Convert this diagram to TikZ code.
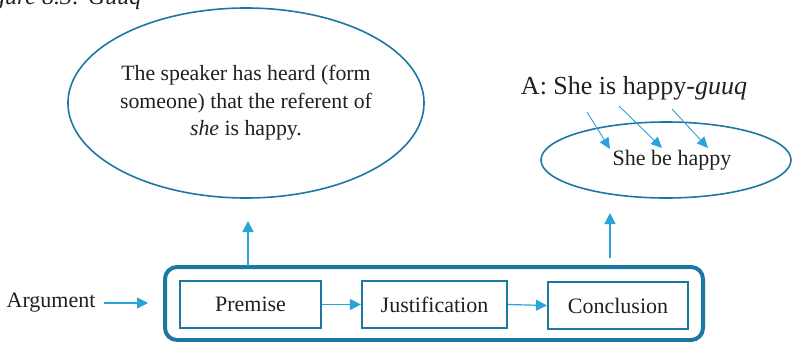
\documentclass[tikz,border=0pt]{standalone}
\usepackage{fontspec}
\setmainfont{Liberation Serif}
\usetikzlibrary{shapes.geometric,arrows.meta}
\definecolor{frameblue}{HTML}{1D77A3}
\definecolor{arrowblue}{HTML}{2AA2DC}
\definecolor{inkgray}{HTML}{231F20}

\begin{document}
\begin{tikzpicture}[x=1pt,y=-1pt,
  every node/.style={text=inkgray, font=\fontsize{22}{27.5}\selectfont},
  bubble/.style={ellipse, draw=frameblue, line width=1.6pt, inner sep=0pt},
  stepbox/.style={draw=frameblue, line width=2.2pt, minimum height=47pt, inner sep=0pt},
  flow/.style={draw=arrowblue, line width=1.2pt, -{Triangle[length=11pt,width=11pt]}},
  thinflow/.style={draw=arrowblue, line width=0.9pt, -{Triangle[length=11pt,width=10pt]}}
]
\useasboundingbox (0,0) rectangle (792,342);
\clip (0,0) rectangle (792,342);

% caption, cut by the top edge
\node[anchor=base east, font=\fontsize{24}{28}\selectfont\itshape] (caption) at (145,5) {Figure 8.3: Guuq};

% premise bubble
\node[bubble, minimum width=354pt, minimum height=190pt, align=center,
      font=\fontsize{21.8}{27.5}\selectfont] (premisebubble) at (246,103)
  {The speaker has heard (form\\someone) that the referent of\\\textit{she} is happy.};

% conclusion bubble
\node[bubble, minimum width=250pt, minimum height=76pt] (conclbubble) at (666,160) {};
\node (shebe) at (672,160) {She be happy};

% example sentence
\node[font=\fontsize{26}{30}\selectfont] (example) at (634,88) {A: She is happy-\textit{guuq}};

% arrows from the sentence into the bubble
\coordinate (a1s) at (587,112); \coordinate (a1e) at (610,149);
\coordinate (a2s) at (619,106); \coordinate (a2e) at (662,148);
\coordinate (a3s) at (672,109); \coordinate (a3e) at (708,148);
\draw[thinflow] (a1s) -- (a1e);
\draw[thinflow] (a2s) -- (a2e);
\draw[thinflow] (a3s) -- (a3e);

% argument frame
\draw[draw=frameblue, line width=4pt, rounded corners=12pt] (165,267) rectangle (703,340);
\coordinate (frameTL) at (248,266);

\node[stepbox, minimum width=141pt] (premise) at (250.5,304.5) {Premise};
\node[stepbox, minimum width=145pt] (justif) at (434.5,304.5) {Justification};
\node[stepbox, minimum width=140pt] (concl) at (618,305.5) {Conclusion};

\draw[flow] (premise.east) -- (justif.west);
\draw[flow] (justif.east) -- (concl.west);

% argument label
\node[anchor=east] (argument) at (99,303) {Argument};
\coordinate (argin) at (148,303);
\draw[flow] ([xshift=5pt]argument.east) -- (argin);

% upward arrows
\coordinate (upLtop) at (248,221);
\coordinate (upRbot) at (610,258);
\coordinate (upRtop) at (610,213);
\draw[flow] (frameTL) -- (upLtop);
\draw[flow] (upRbot) -- (upRtop);
\end{tikzpicture}
\end{document}
